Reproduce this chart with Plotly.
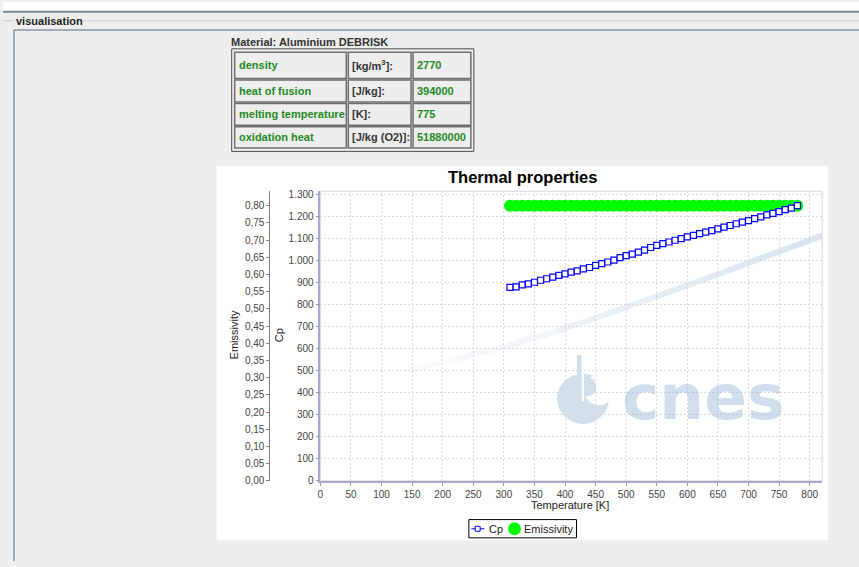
import plotly.graph_objects as go

# ---------------- data ----------------
temperature = [310, 320, 330, 340, 350, 360, 370, 380, 390, 400, 410, 420,
               430, 440, 450, 460, 470, 480, 490, 500, 510, 520, 530, 540,
               550, 560, 570, 580, 590, 600, 610, 620, 630, 640, 650, 660,
               670, 680, 690, 700, 710, 720, 730, 740, 750, 760, 770, 780]
cp = [880, 882, 891, 896, 903, 912, 919, 926, 934, 941, 949, 955,
      964, 970, 980, 988, 995, 1004, 1015, 1024, 1031, 1040, 1049, 1061,
      1071, 1079, 1086, 1094, 1101, 1109, 1116, 1124, 1131, 1138, 1146, 1154,
      1161, 1169, 1176, 1183, 1192, 1200, 1209, 1216, 1224, 1233, 1240, 1251]
emissivity = [0.80] * len(temperature)

x_ticks = list(range(0, 801, 50))
cp_ticks = list(range(0, 1301, 100))
cp_ticktext = ["0", "100", "200", "300", "400", "500", "600", "700", "800", "900",
               "1.000", "1.100", "1.200", "1.300"]
em_ticks = [round(i * 0.05, 2) for i in range(17)]
em_ticktext = ["0,00", "0,05", "0,10", "0,15", "0,20", "0,25", "0,30", "0,35", "0,40",
               "0,45", "0,50", "0,55", "0,60", "0,65", "0,70", "0,75", "0,80"]

material = "Material: Aluminium DEBRISK"
prop_names = ["density", "heat of fusion", "melting temperature", "oxidation heat"]
prop_units = ["[kg/m<sup>3</sup>]:", "[J/kg]:", "[K]:", "[J/kg (O2)]:"]
prop_values = ["2770", "394000", "775", "51880000"]

# ---------------- layout helpers ----------------
W, H = 859, 567
def PX(x):
    return x / W
def PY(y):
    return 1 - y / H

FONT = "Liberation Sans, Arial, sans-serif"
GREEN_TXT = "#23891f"

shapes = []
annotations = []

def rect(x0, y0, x1, y1, fill=None, line=None, lw=1, layer="below"):
    shapes.append(dict(type="rect", xref="paper", yref="paper",
                       x0=PX(x0), x1=PX(x1), y0=PY(y0), y1=PY(y1),
                       fillcolor=fill if fill else "rgba(0,0,0,0)",
                       line=dict(color=line if line else "rgba(0,0,0,0)", width=lw if line else 0),
                       layer=layer))

def seg(x0, y0, x1, y1, color, lw=1, layer="below", opacity=1):
    shapes.append(dict(type="line", xref="paper", yref="paper",
                       x0=PX(x0), x1=PX(x1), y0=PY(y0), y1=PY(y1),
                       line=dict(color=color, width=lw), layer=layer, opacity=opacity))

def text(x, y, s, size=11, color="#222", bold=False, xanchor="left", angle=0, family=FONT):
    annotations.append(dict(xref="paper", yref="paper", x=PX(x), y=PY(y), text=s,
                            showarrow=False, xanchor=xanchor, yanchor="middle",
                            textangle=angle, borderpad=0,
                            font=dict(family=family, size=size, color=color,
                                      weight="bold" if bold else "normal")))

# ---------- window chrome ----------
rect(0, 0, W, 9, fill="white")
seg(0, 10, W, 10, "#7f8d99", lw=2)
seg(0, 19, 10, 19, "#c3d1de", lw=1)
seg(81, 19, W, 19, "#c3d1de", lw=1)
text(12, 19, "visualisation", size=11, color="#1e1e1e", bold=True)
seg(11, 28.5, W, 28.5, "#8796a3", lw=1.5)
seg(11, 28, 11, H, "#8796a3", lw=1.5)

# ---------- property table ----------
text(228, 41, material, size=11, color="#333333", bold=True)
rect(229.5, 47.5, 472.5, 151.5, line="#4a4a4a", lw=1)
row_y = [(51, 77.5), (79, 101.5), (103, 125), (126.5, 148)]
col_x = [(232.5, 344.5), (346.5, 409.5), (411.5, 469.5)]
for r, (y0, y1) in enumerate(row_y):
    for c, (x0, x1) in enumerate(col_x):
        rect(x0, y0, x1, y1, line="#6f6f6f", lw=1.5)
    yc = (y0 + y1) / 2
    text(col_x[0][0] + 3, yc, prop_names[r], size=11, color=GREEN_TXT, bold=True)
    text(col_x[1][0] + 3, yc, prop_units[r], size=11, color="#333333", bold=True)
    text(col_x[2][0] + 3, yc, prop_values[r], size=11, color=GREEN_TXT, bold=True)

# ---------- chart panel ----------
rect(214.5, 166, 828, 546, fill="white")

# watermark: swoosh band
sw = [(405, 374), (455, 362), (505, 349), (555, 334), (605, 317),
      (655, 299), (705, 281), (755, 262), (790, 249), (822, 237)]
for i in range(len(sw) - 1):
    op = 0.08 + 0.62 * (i / (len(sw) - 2))
    seg(sw[i][0], sw[i][1], sw[i + 1][0], sw[i + 1][1], "#c9d9e8", lw=6, opacity=op)

# watermark: crescent logo
LOGO = "#d2dfeb"
shapes.append(dict(type="circle", xref="paper", yref="paper",
                   x0=PX(556), x1=PX(608), y0=PY(377), y1=PY(428),
                   fillcolor=LOGO, line=dict(width=0), layer="below"))
shapes.append(dict(type="circle", xref="paper", yref="paper",
                   x0=PX(583), x1=PX(613), y0=PY(378), y1=PY(409),
                   fillcolor="white", line=dict(width=0), layer="below"))
rect(580.5, 376, 583, 405, fill="white")
shapes.append(dict(type="path", xref="paper", yref="paper",
                   path="M {} {} Q {} {} {} {} Q {} {} {} {} Z".format(
                       PX(583), PY(379), PX(598), PY(382), PX(595), PY(396),
                       PX(588), PY(401), PX(583), PY(400)),
                   fillcolor=LOGO, line=dict(width=0), layer="below"))
rect(576, 358, 580.5, 405, fill=LOGO)

# ---------- legend (manual) ----------
rect(467.5, 525, 575.5, 543.5, fill="white", line="#000000", lw=1, layer="above")
seg(470, 534.3, 483, 534.3, "#0000ff", lw=1, layer="above")
rect(473.8, 531.8, 478.8, 536.8, fill="white", line="#0000ff", lw=1, layer="above")
text(486.5, 534.5, "Cp", size=11, color="#222")
shapes.append(dict(type="circle", xref="paper", yref="paper",
                   x0=PX(506.8), x1=PX(519.8), y0=PY(527.8), y1=PY(540.8),
                   fillcolor="#00ff00", line=dict(width=0), layer="above"))
text(522, 534.5, "Emissivity", size=11, color="#222")

# ---------- titles ----------
text(521, 178, "Thermal properties", size=16.5, color="#000000", bold=True, xanchor="center")
text(569, 510, "Temperature [K]", size=11, color="#222", xanchor="center")
text(277, 338, "Cp", size=11, color="#222", xanchor="center", angle=-90)
text(232, 338, "Emissivity", size=11, color="#222", xanchor="center", angle=-90)

# ---------- watermark text ----------
text(702, 401, "cnes", size=63, color="rgba(140,175,210,0.42)", bold=True,
     xanchor="center", family="DejaVu Sans, Verdana, sans-serif")

# ---------- plot outline ----------
rect(318.5, 192, 822, 485.7, line="#d6d6de", lw=1, layer="below")

# ---------- traces ----------
fig = go.Figure()
fig.add_trace(go.Scatter(x=temperature, y=emissivity, name="Emissivity",
                         mode="markers", yaxis="y", xaxis="x",
                         marker=dict(symbol="circle", size=12, color="#00ff00",
                                     line=dict(width=0))))
fig.add_trace(go.Scatter(x=temperature, y=cp, name="Cp",
                         mode="lines+markers", yaxis="y2", xaxis="x",
                         line=dict(color="#0000ff", width=1),
                         marker=dict(symbol="square", size=6, color="white",
                                     line=dict(color="#0000ff", width=1.2))))

x_left, x_right = 318.5, 822
y_top, y_bot = 192, 485.7
px_per_K = (809.5 - 318.5) / 800
px_per_cp = (485.7 - 195.7) / 1300
px_per_em = (485.7 - 206.7) / 0.80

tickfont = dict(family=FONT, size=10, color="#444444")
fig.update_layout(
    width=W, height=H,
    margin=dict(l=0, r=0, t=0, b=0),
    paper_bgcolor="#eeeeee",
    plot_bgcolor="rgba(0,0,0,0)",
    showlegend=False,
    shapes=shapes,
    annotations=annotations,
    xaxis=dict(domain=[PX(x_left), PX(x_right)], anchor="y",
               range=[0, (x_right - x_left) / px_per_K],
               tickmode="array", tickvals=x_ticks, ticktext=[str(v) for v in x_ticks],
               ticks="outside", ticklen=3, tickcolor="#999999",
               showline=True, linecolor="#a8a8d4", linewidth=1.5,
               showgrid=True, gridcolor="#dadada", griddash="2px,2px", gridwidth=1,
               zeroline=False, tickfont=tickfont),
    yaxis=dict(domain=[PY(y_bot), PY(y_top)], anchor="free", position=PX(267.3),
               range=[0, (y_bot - y_top) / px_per_em],
               tickmode="array", tickvals=em_ticks, ticktext=em_ticktext,
               ticks="outside", ticklen=3, tickcolor="#808080",
               showline=True, linecolor="#808080", linewidth=1,
               showgrid=False, zeroline=False, tickfont=tickfont),
    yaxis2=dict(overlaying="y", side="left", anchor="x",
                range=[0, (y_bot - y_top) / px_per_cp],
                tickmode="array", tickvals=cp_ticks, ticktext=cp_ticktext,
                ticks="outside", ticklen=3, tickcolor="#999999",
                showline=True, linecolor="#a8a8d4", linewidth=1.5,
                showgrid=True, gridcolor="#dadada", griddash="2px,2px", gridwidth=1,
                zeroline=False, tickfont=tickfont),
)

fig.write_html("out.html", config={"displayModeBar": False},
               post_script="document.body.style.margin='0';document.body.style.padding='0';"
                           "document.documentElement.style.overflow='hidden';")
